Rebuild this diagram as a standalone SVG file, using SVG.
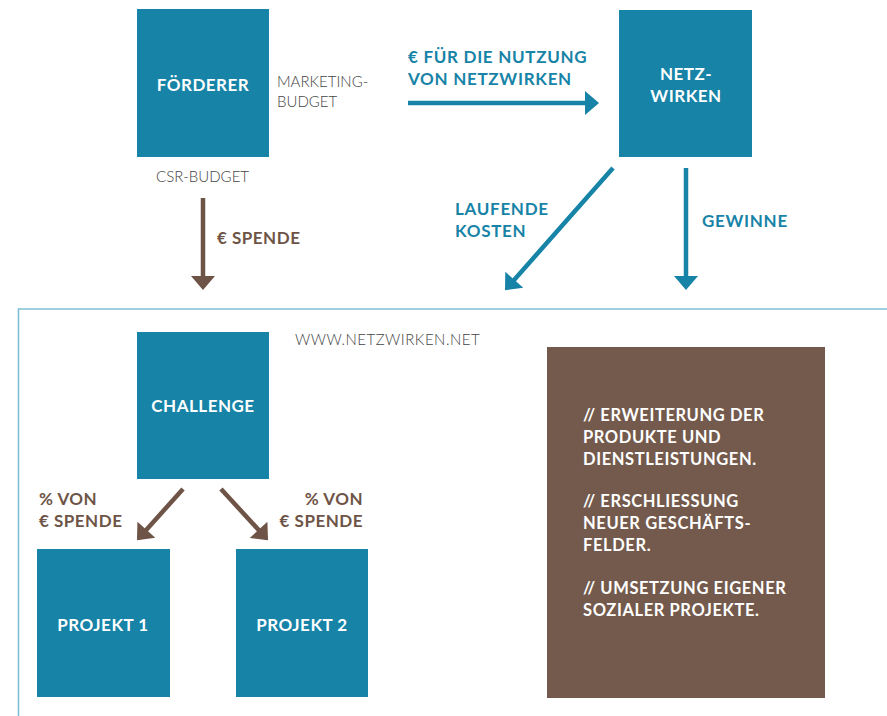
<svg xmlns="http://www.w3.org/2000/svg" width="887" height="716" viewBox="0 0 887 716">
<style>
.box{fill:#1683a7;}
.bt{fill:#fff;font-family:Lato,"Liberation Sans",sans-serif;font-weight:bold;font-size:17px;letter-spacing:0.5px;text-anchor:middle;}
.lt{fill:#444;font-family:Lato,"Liberation Sans",sans-serif;font-weight:300;font-size:15px;}
.tl{fill:#1683a7;font-family:Lato,"Liberation Sans",sans-serif;font-weight:bold;font-size:17px;letter-spacing:0.7px;}
.bl{fill:#6e5446;font-family:Lato,"Liberation Sans",sans-serif;font-weight:bold;font-size:17px;letter-spacing:0.5px;}
.wt{fill:#fff;font-family:Lato,"Liberation Sans",sans-serif;font-weight:bold;font-size:16.5px;letter-spacing:0.6px;}
.ta{stroke:#1683a7;stroke-width:4.5;fill:none;}
.ba{stroke:#6e5446;stroke-width:4.5;fill:none;}
</style>
<defs>
<marker id="mt" markerUnits="userSpaceOnUse" markerWidth="26" markerHeight="26" viewBox="0 0 26 26" refX="12" refY="13" orient="auto">
<path d="M1,1 L15,13 L1,25 Z" fill="#1683a7"/>
</marker>
<marker id="mb" markerUnits="userSpaceOnUse" markerWidth="26" markerHeight="26" viewBox="0 0 26 26" refX="12" refY="13" orient="auto">
<path d="M1,1 L15,13 L1,25 Z" fill="#6e5446"/>
</marker>
</defs>
<rect width="887" height="716" fill="#fff"/>
<path d="M887,309 H18.5 V716" fill="none" stroke="#7fc0d6" stroke-width="1.6"/>
<g id="connectors">
<line class="ta" x1="408" y1="103" x2="596" y2="103" marker-end="url(#mt)"/>
<line class="ta" x1="613" y1="168" x2="507" y2="288" marker-end="url(#mt)"/>
<line class="ta" x1="686" y1="168" x2="686" y2="287" marker-end="url(#mt)"/>
<line class="ba" x1="203" y1="198" x2="203" y2="287" marker-end="url(#mb)"/>
<line class="ba" x1="183" y1="489" x2="139" y2="538" marker-end="url(#mb)"/>
<line class="ba" x1="221" y1="489" x2="266" y2="538" marker-end="url(#mb)"/>
<text class="tl" x="408" y="63">€ FÜR DIE NUTZUNG</text>
<text class="tl" x="408" y="85">VON NETZWIRKEN</text>
<text class="tl" x="455" y="215">LAUFENDE</text>
<text class="tl" x="455" y="237">KOSTEN</text>
<text class="tl" x="702" y="227">GEWINNE</text>
<text class="bl" x="217" y="244">€ SPENDE</text>
<text class="bl" x="39" y="505">% VON</text>
<text class="bl" x="39" y="527">€ SPENDE</text>
<text class="bl" x="363" y="505" text-anchor="end">% VON</text>
<text class="bl" x="363" y="527" text-anchor="end">€ SPENDE</text>
</g>
<g id="foerderer">
<rect class="box" x="137" y="9" width="132" height="148"/>
<text class="bt" x="203" y="91">FÖRDERER</text>
</g>
<text class="lt" x="277" y="87">MARKETING-</text>
<text class="lt" x="277" y="107">BUDGET</text>
<text class="lt" x="156" y="182">CSR-BUDGET</text>
<g id="netzwirken">
<rect class="box" x="619" y="10" width="133" height="147"/>
<text class="bt" x="686" y="80">NETZ-</text>
<text class="bt" x="686" y="102">WIRKEN</text>
</g>
<text class="lt" x="295" y="345" letter-spacing="0.5">WWW.NETZWIRKEN.NET</text>
<g id="challenge">
<rect class="box" x="137" y="332" width="132" height="147"/>
<text class="bt" x="203" y="412">CHALLENGE</text>
</g>
<g id="projekt1">
<rect class="box" x="37" y="549" width="133" height="148"/>
<text class="bt" x="103" y="631">PROJEKT 1</text>
</g>
<g id="projekt2">
<rect class="box" x="236" y="549" width="132" height="148"/>
<text class="bt" x="302" y="631">PROJEKT 2</text>
</g>
<g id="info">
<rect x="547" y="347" width="278" height="351" fill="#735a4c"/>
<text class="wt" x="583" y="421">// ERWEITERUNG DER</text>
<text class="wt" x="583" y="443">PRODUKTE UND</text>
<text class="wt" x="583" y="465">DIENSTLEISTUNGEN.</text>
<text class="wt" x="583" y="507">// ERSCHLIESSUNG</text>
<text class="wt" x="583" y="529">NEUER GESCHÄFTS-</text>
<text class="wt" x="583" y="551">FELDER.</text>
<text class="wt" x="583" y="594">// UMSETZUNG EIGENER</text>
<text class="wt" x="583" y="616">SOZIALER PROJEKTE.</text>
</g>
</svg>
